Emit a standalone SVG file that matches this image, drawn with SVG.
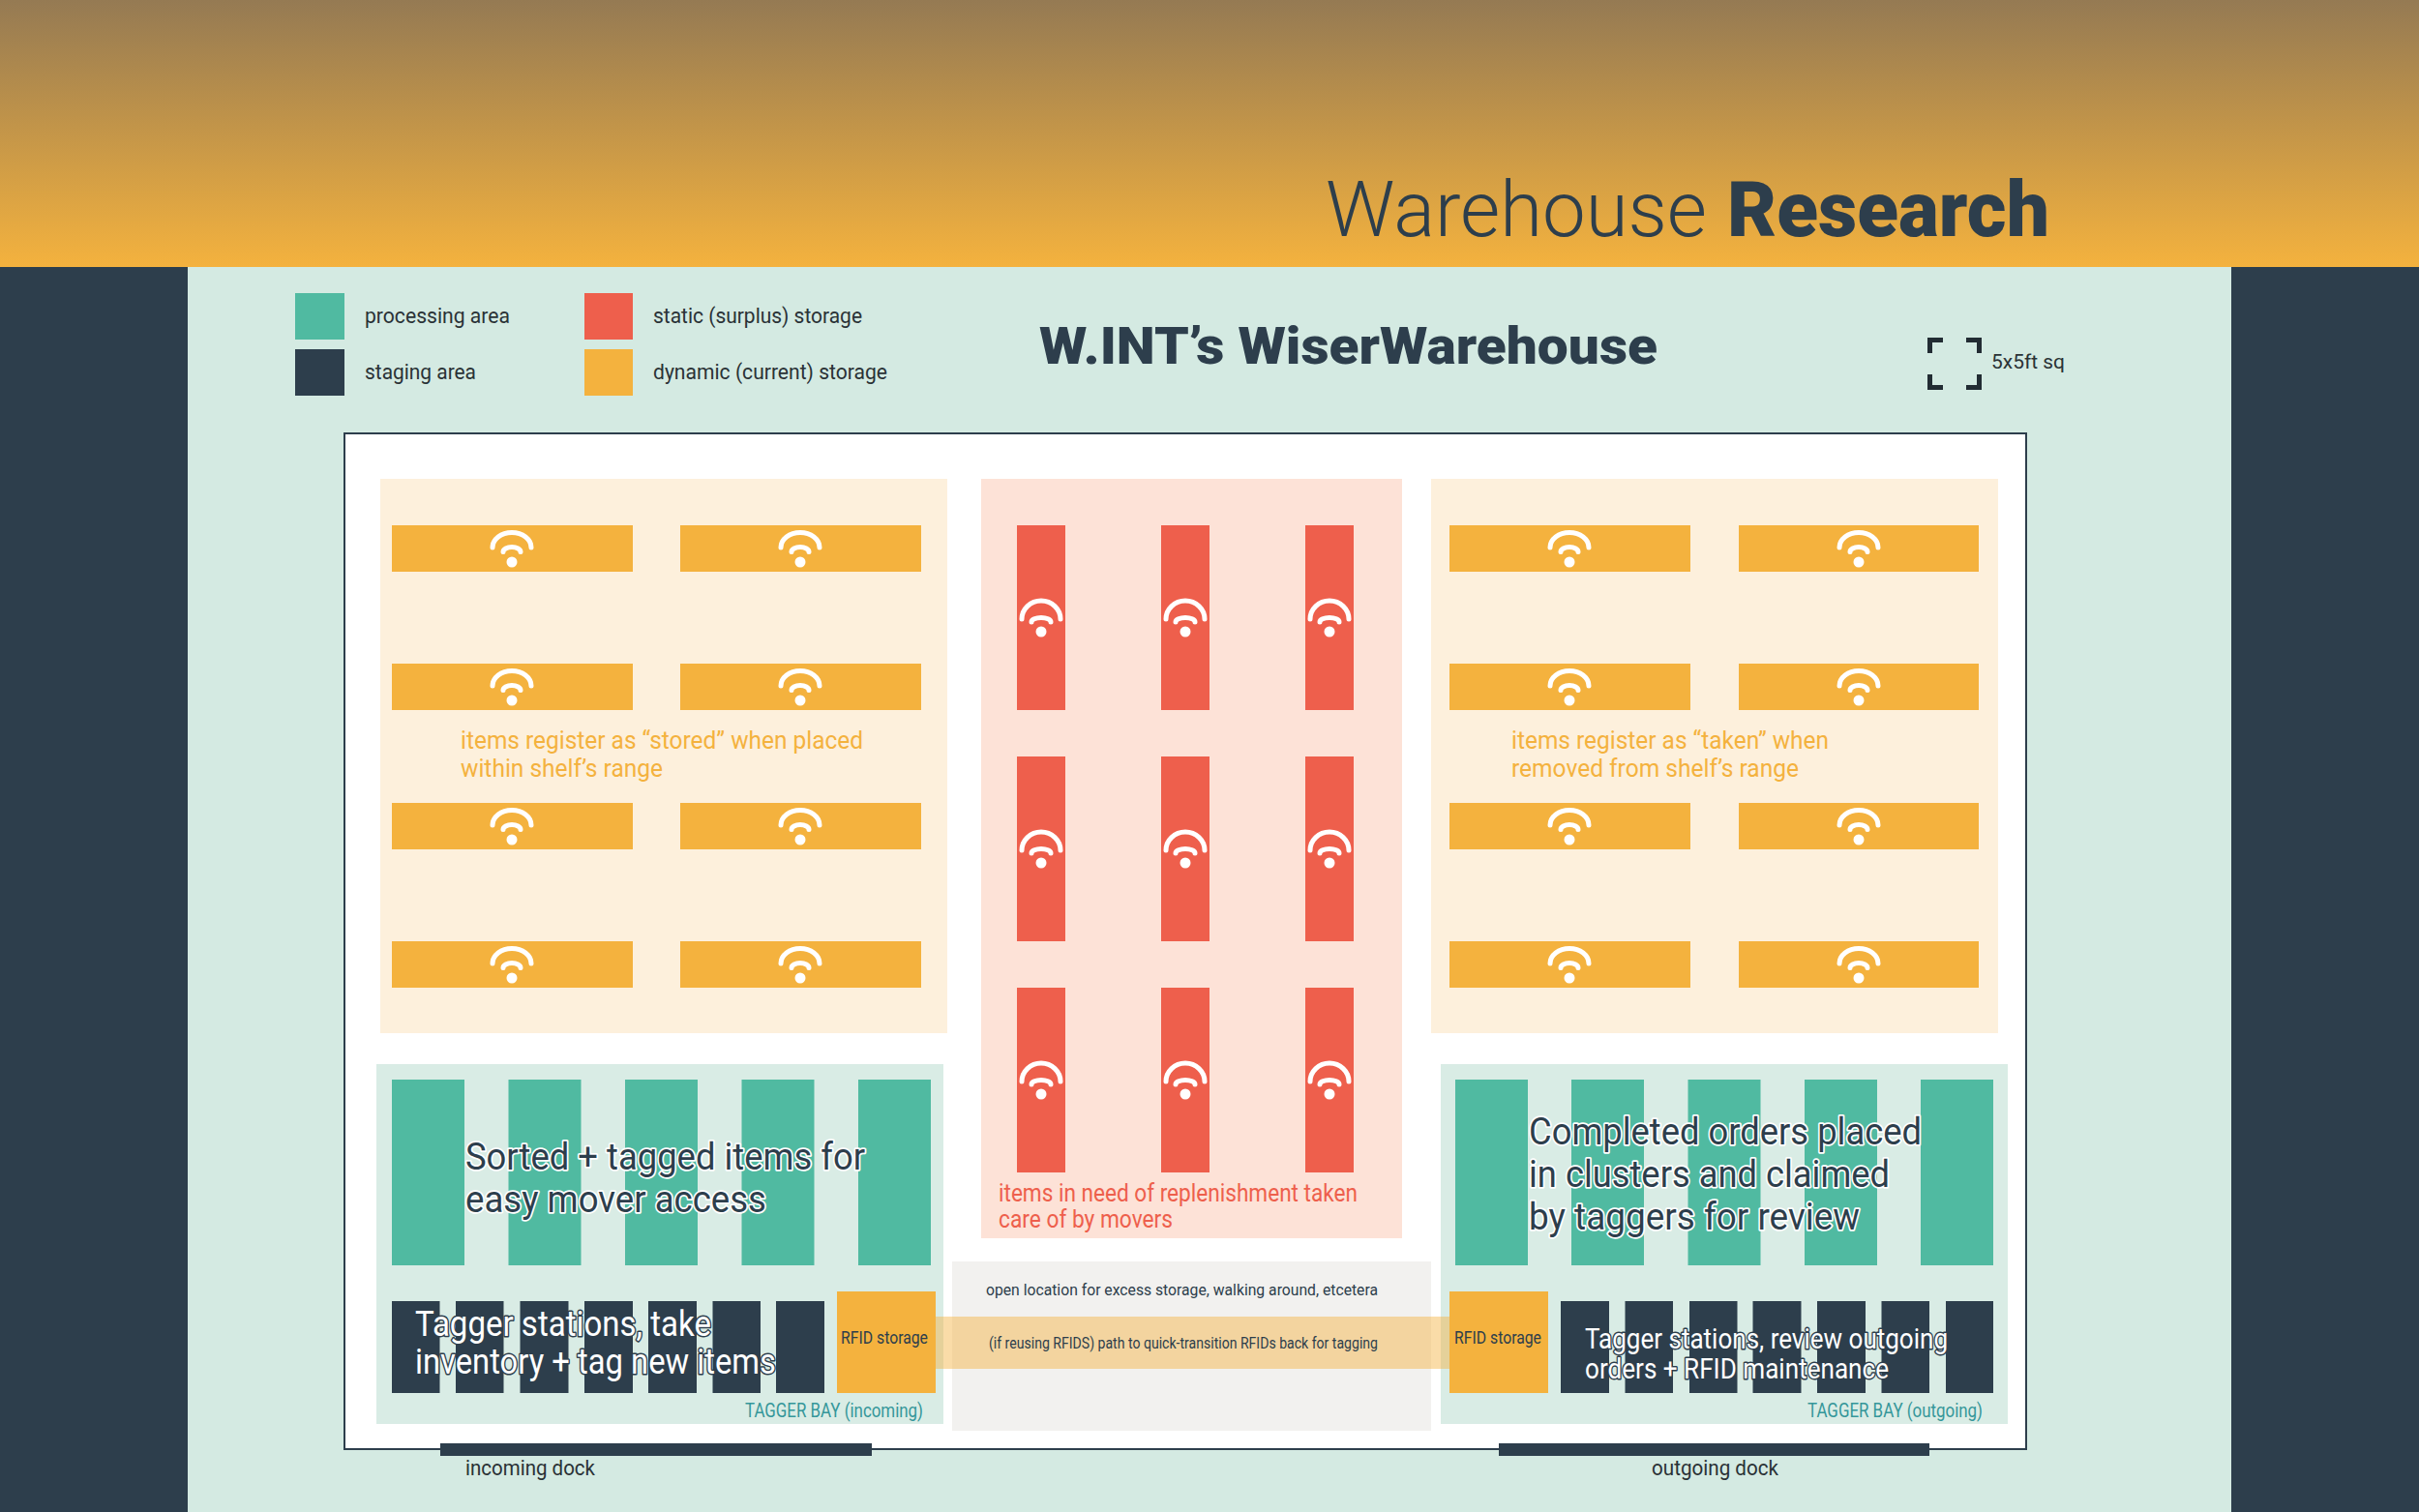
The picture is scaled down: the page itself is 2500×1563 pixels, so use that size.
<svg xmlns="http://www.w3.org/2000/svg" xmlns:xlink="http://www.w3.org/1999/xlink" width="2500" height="1563" viewBox="0 0 2500 1563">
<style>
text{font-family:"Roboto","Liberation Sans",sans-serif;font-weight:400;fill:#2d3e4c}
.l{font-weight:300}
.b{font-weight:900}
.k{fill:#2a3236}
.or{fill:#f4b23e}.rd{fill:#ee5f4c}.nv{fill:#2d3e4c}.tl{fill:#50baa1}
.bay{fill:#d9ece5}
.halo{stroke:#fff;stroke-width:3.5px;paint-order:stroke;stroke-linejoin:round}
.halod{fill:#fff;stroke:#2d3e4c;stroke-width:3px;paint-order:stroke;stroke-linejoin:round}
.arc{fill:none;stroke:#fff;stroke-width:5;stroke-linecap:round}
.tb{fill:#35979a}
</style>
<defs>
<linearGradient id="sky" x1="0" y1="0" x2="0" y2="1"><stop offset="0" stop-color="#957a53"/><stop offset="1" stop-color="#f4b23e"/></linearGradient>
<g id="wy"><circle r="5.500" fill="#fff"/><path class="arc" d="M-20,-15A20,15.500 0 0 1 20,-15M-9,-10.500A9,5 0 0 1 9,-10.500"/></g>
<g id="wr"><circle r="5.500" fill="#fff"/><path class="arc" d="M-20,-13A20,19 0 0 1 20,-13M-10,-10A10,4.500 0 0 1 10,-10"/></g>
</defs>
<rect id="background" width="2500" height="1563" fill="#d4eae2"/>
<rect id="header" width="2500" height="276" fill="url(#sky)"/>
<rect id="side-left" y="276" width="194" height="1287" class="nv"/>
<rect id="side-right" x="2306" y="276" width="194" height="1287" class="nv"/>
<text id="title" class="l" x="1370" y="244" font-size="80" textLength="394" lengthAdjust="spacingAndGlyphs">Warehouse</text>
<text id="title-bold" class="b" x="1785" y="244" font-size="80" textLength="333" lengthAdjust="spacingAndGlyphs">Research</text>
<text id="subtitle" class="b" x="1074" y="376" font-size="54" textLength="639" lengthAdjust="spacingAndGlyphs">W.INT’s WiserWarehouse</text>
<g id="legend">
<rect x="305" y="303" width="51" height="48" class="tl"/><text class="k" x="377" y="334" font-size="22" textLength="150" lengthAdjust="spacingAndGlyphs">processing area</text>
<rect x="305" y="361" width="51" height="48" class="nv"/><text class="k" x="377" y="392" font-size="22" textLength="115" lengthAdjust="spacingAndGlyphs">staging area</text>
<rect x="604" y="303" width="50" height="48" class="rd"/><text class="k" x="675" y="334" font-size="22" textLength="216" lengthAdjust="spacingAndGlyphs">static (surplus) storage</text>
<rect x="604" y="361" width="50" height="48" class="or"/><text class="k" x="675" y="392" font-size="22" textLength="242" lengthAdjust="spacingAndGlyphs">dynamic (current) storage</text>
</g>
<g id="scale">
<path fill="none" stroke="#222c33" stroke-width="5" d="M1994.500,365V351.500H2008M2032,351.500H2045.500V365M1994.500,387V400.500H2008M2032,400.500H2045.500V387"/>
<text class="k" x="2058" y="381" font-size="21" textLength="76" lengthAdjust="spacingAndGlyphs">5x5ft sq</text>
</g>
<rect id="frame" x="356" y="448" width="1738" height="1050" fill="#fff" stroke="#2d3e4c" stroke-width="2"/>
<g id="zone-dynamic-left">
<rect x="393" y="495" width="586" height="573" fill="#fdf0dc"/>
<text class="or" x="476" y="774" font-size="26" textLength="416" lengthAdjust="spacingAndGlyphs">items register as “stored” when placed</text>
<text class="or" x="476" y="803" font-size="26" textLength="209" lengthAdjust="spacingAndGlyphs">within shelf’s range</text>
</g>
<g id="shelves-left">
<g id="sl1"><rect x="405" y="543" width="249" height="48" class="or"/><use xlink:href="#wy" x="529" y="581"/></g>
<g id="sl2"><rect x="703" y="543" width="249" height="48" class="or"/><use xlink:href="#wy" x="827" y="581"/></g>
<g id="sl3"><rect x="405" y="686" width="249" height="48" class="or"/><use xlink:href="#wy" x="529" y="724"/></g>
<g id="sl4"><rect x="703" y="686" width="249" height="48" class="or"/><use xlink:href="#wy" x="827" y="724"/></g>
<g id="sl5"><rect x="405" y="830" width="249" height="48" class="or"/><use xlink:href="#wy" x="529" y="868"/></g>
<g id="sl6"><rect x="703" y="830" width="249" height="48" class="or"/><use xlink:href="#wy" x="827" y="868"/></g>
<g id="sl7"><rect x="405" y="973" width="249" height="48" class="or"/><use xlink:href="#wy" x="529" y="1011"/></g>
<g id="sl8"><rect x="703" y="973" width="249" height="48" class="or"/><use xlink:href="#wy" x="827" y="1011"/></g>
</g>
<g id="zone-static">
<rect x="1014" y="495" width="435" height="785" fill="#fde2d7"/>
<text class="rd" x="1032" y="1242" font-size="25" textLength="371" lengthAdjust="spacingAndGlyphs">items in need of replenishment taken</text>
<text class="rd" x="1032" y="1269" font-size="25" textLength="180" lengthAdjust="spacingAndGlyphs">care of by movers</text>
</g>
<g id="shelves-center">
<g id="sc1"><rect x="1051" y="543" width="50" height="191" class="rd"/><use xlink:href="#wr" x="1076" y="653"/></g>
<g id="sc2"><rect x="1200" y="543" width="50" height="191" class="rd"/><use xlink:href="#wr" x="1225" y="653"/></g>
<g id="sc3"><rect x="1349" y="543" width="50" height="191" class="rd"/><use xlink:href="#wr" x="1374" y="653"/></g>
<g id="sc4"><rect x="1051" y="782" width="50" height="191" class="rd"/><use xlink:href="#wr" x="1076" y="892"/></g>
<g id="sc5"><rect x="1200" y="782" width="50" height="191" class="rd"/><use xlink:href="#wr" x="1225" y="892"/></g>
<g id="sc6"><rect x="1349" y="782" width="50" height="191" class="rd"/><use xlink:href="#wr" x="1374" y="892"/></g>
<g id="sc7"><rect x="1051" y="1021" width="50" height="191" class="rd"/><use xlink:href="#wr" x="1076" y="1131"/></g>
<g id="sc8"><rect x="1200" y="1021" width="50" height="191" class="rd"/><use xlink:href="#wr" x="1225" y="1131"/></g>
<g id="sc9"><rect x="1349" y="1021" width="50" height="191" class="rd"/><use xlink:href="#wr" x="1374" y="1131"/></g>
</g>
<g id="zone-dynamic-right">
<rect x="1479" y="495" width="586" height="573" fill="#fdf0dc"/>
<text class="or" x="1562" y="774" font-size="26" textLength="328" lengthAdjust="spacingAndGlyphs">items register as “taken” when</text>
<text class="or" x="1562" y="803" font-size="26" textLength="297" lengthAdjust="spacingAndGlyphs">removed from shelf’s range</text>
</g>
<g id="shelves-right">
<g id="sr1"><rect x="1498" y="543" width="249" height="48" class="or"/><use xlink:href="#wy" x="1622" y="581"/></g>
<g id="sr2"><rect x="1797" y="543" width="248" height="48" class="or"/><use xlink:href="#wy" x="1921" y="581"/></g>
<g id="sr3"><rect x="1498" y="686" width="249" height="48" class="or"/><use xlink:href="#wy" x="1622" y="724"/></g>
<g id="sr4"><rect x="1797" y="686" width="248" height="48" class="or"/><use xlink:href="#wy" x="1921" y="724"/></g>
<g id="sr5"><rect x="1498" y="830" width="249" height="48" class="or"/><use xlink:href="#wy" x="1622" y="868"/></g>
<g id="sr6"><rect x="1797" y="830" width="248" height="48" class="or"/><use xlink:href="#wy" x="1921" y="868"/></g>
<g id="sr7"><rect x="1498" y="973" width="249" height="48" class="or"/><use xlink:href="#wy" x="1622" y="1011"/></g>
<g id="sr8"><rect x="1797" y="973" width="248" height="48" class="or"/><use xlink:href="#wy" x="1921" y="1011"/></g>
</g>
<rect id="open-location" x="984" y="1304" width="495" height="175" fill="#f2f1ef"/>
<g id="bay-in">
<rect x="389" y="1100" width="586" height="372" class="bay"/>
<g class="tl"><rect x="405" y="1116" width="75" height="192"/><rect x="525.500" y="1116" width="75" height="192"/><rect x="646" y="1116" width="75" height="192"/><rect x="766.500" y="1116" width="75" height="192"/><rect x="887" y="1116" width="75" height="192"/></g>
<g class="nv"><rect x="405" y="1345" width="49.500" height="95"/><rect x="471" y="1345" width="49.500" height="95"/><rect x="537.500" y="1345" width="50" height="95"/><rect x="604" y="1345" width="50" height="95"/><rect x="670" y="1345" width="50" height="95"/><rect x="736.500" y="1345" width="49.500" height="95"/><rect x="802" y="1345" width="50" height="95"/></g>
<rect x="865" y="1335" width="102" height="105" class="or"/>
<text x="869" y="1389" font-size="19" textLength="90" lengthAdjust="spacingAndGlyphs">RFID storage</text>
<text class="tb" x="770" y="1465" font-size="20" textLength="184" lengthAdjust="spacingAndGlyphs">TAGGER BAY (incoming)</text>
</g>
<g id="bay-out">
<rect x="1489" y="1100" width="586" height="372" class="bay"/>
<g class="tl"><rect x="1504" y="1116" width="75" height="192"/><rect x="1624" y="1116" width="75" height="192"/><rect x="1744.500" y="1116" width="75" height="192"/><rect x="1865" y="1116" width="75" height="192"/><rect x="1985" y="1116" width="75" height="192"/></g>
<g class="nv"><rect x="1613" y="1345" width="50" height="95"/><rect x="1679.500" y="1345" width="49.500" height="95"/><rect x="1746" y="1345" width="49.500" height="95"/><rect x="1811.500" y="1345" width="50" height="95"/><rect x="1878" y="1345" width="50" height="95"/><rect x="1944.500" y="1345" width="49.500" height="95"/><rect x="2011" y="1345" width="49" height="95"/></g>
<rect x="1498" y="1335" width="102" height="105" class="or"/>
<text x="1503" y="1389" font-size="19" textLength="90" lengthAdjust="spacingAndGlyphs">RFID storage</text>
<text class="tb" x="1868" y="1465" font-size="20" textLength="181" lengthAdjust="spacingAndGlyphs">TAGGER BAY (outgoing)</text>
</g>
<g id="connectors">
<rect x="967" y="1361" width="531" height="54" fill="#f4b23e" fill-opacity=".45"/>
</g>
<text x="1019" y="1339" font-size="17" textLength="405" lengthAdjust="spacingAndGlyphs">open location for excess storage, walking around, etcetera</text>
<text x="1022" y="1394" font-size="16" textLength="402" lengthAdjust="spacingAndGlyphs">(if reusing RFIDS) path to quick-transition RFIDs back for tagging</text>
<text class="halo" x="481" y="1209" font-size="38" textLength="413" lengthAdjust="spacingAndGlyphs">Sorted + tagged items for</text>
<text class="halo" x="481" y="1253" font-size="38" textLength="311" lengthAdjust="spacingAndGlyphs">easy mover access</text>
<text class="halod" x="429" y="1381" font-size="36" textLength="306" lengthAdjust="spacingAndGlyphs">Tagger stations, take</text>
<text class="halod" x="429" y="1420" font-size="36" textLength="373" lengthAdjust="spacingAndGlyphs">inventory + tag new items</text>
<text class="halo" x="1580" y="1183" font-size="38" textLength="406" lengthAdjust="spacingAndGlyphs">Completed orders placed</text>
<text class="halo" x="1580" y="1227" font-size="38" textLength="373" lengthAdjust="spacingAndGlyphs">in clusters and claimed</text>
<text class="halo" x="1580" y="1271" font-size="38" textLength="342" lengthAdjust="spacingAndGlyphs">by taggers for review</text>
<text class="halod" x="1638" y="1394" font-size="30" textLength="375" lengthAdjust="spacingAndGlyphs">Tagger stations, review outgoing</text>
<text class="halod" x="1638" y="1425" font-size="30" textLength="314" lengthAdjust="spacingAndGlyphs">orders + RFID maintenance</text>
<g id="dock-in"><rect x="455" y="1492" width="446" height="13" class="nv"/><text class="k" x="481" y="1525" font-size="22" textLength="134" lengthAdjust="spacingAndGlyphs">incoming dock</text></g>
<g id="dock-out"><rect x="1549" y="1492" width="445" height="13" class="nv"/><text class="k" x="1707" y="1525" font-size="22" textLength="131" lengthAdjust="spacingAndGlyphs">outgoing dock</text></g>
</svg>
